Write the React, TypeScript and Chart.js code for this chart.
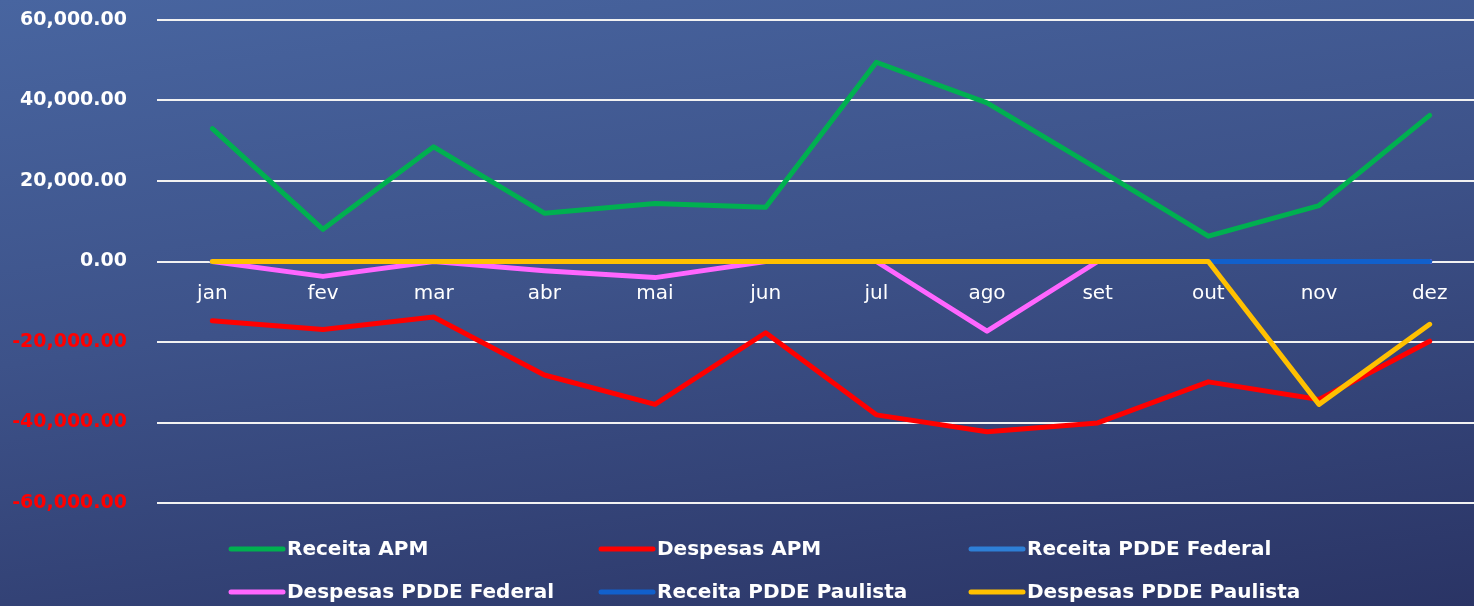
import React, { useEffect, useRef } from "react";
import { Chart, registerables } from "chart.js";

Chart.register(...registerables);

const categories = ["jan", "fev", "mar", "abr", "mai", "jun", "jul", "ago", "set", "out", "nov", "dez"];
const receitaAPM = [33000, 8000, 28500, 12000, 14400, 13500, 49500, 39400, 23000, 6300, 13900, 36300];
const despesasAPM = [-14700, -16900, -13800, -28200, -35500, -17700, -38100, -42300, -40100, -29900, -34300, -19800];
const receitaPDDEFederal = [0, 0, 0, 0, 0, 0, 0, 0, 0, 0, 0, 0];
const despesasPDDEFederal = [0, -3700, 0, -2300, -4000, 0, 0, -17300, 0, 0, 0, 0];
const receitaPDDEPaulista = [0, 0, 0, 0, 0, 0, 0, 0, 0, 0, 0, 0];
const despesasPDDEPaulista = [0, 0, 0, 0, 0, 0, 0, 0, 0, 0, -35500, -15600];

const yTicks = [-60000, -40000, -20000, 0, 20000, 40000, 60000];

const FONT = "'DejaVu Sans', 'Liberation Sans', sans-serif";

const legendPlugin = {
  id: "gridLegend",
  afterDraw(chart: any) {
    const ctx = chart.ctx;
    const ds = chart.data.datasets;
    const left = chart.chartArea.left;
    ctx.save();
    ctx.font = `bold 20px ${FONT}`;
    ctx.textBaseline = "middle";
    ctx.textAlign = "left";
    ds.forEach((d: any, i: number) => {
      const col = i % 3;
      const row = Math.floor(i / 3);
      const x = left + 72 + col * 370;
      const y = 549 + row * 43;
      ctx.strokeStyle = d.borderColor;
      ctx.lineWidth = 5;
      ctx.lineCap = "round";
      ctx.beginPath();
      ctx.moveTo(x + 2, y);
      ctx.lineTo(x + 54, y);
      ctx.stroke();
      ctx.fillStyle = "#ffffff";
      ctx.fillText(d.label, x + 58, y + 1);
    });
    ctx.restore();
  },
};

export default function App() {
  const ref = useRef<HTMLCanvasElement>(null);

  useEffect(() => {
    if (!ref.current) return;
    const mk = (label: string, data: number[], color: string, order: number) => ({
      label,
      data,
      borderColor: color,
      backgroundColor: color,
      borderWidth: 5,
      pointRadius: 0,
      pointHoverRadius: 0,
      tension: 0,
      fill: false,
      borderCapStyle: "round" as const,
      borderJoinStyle: "round" as const,
      order,
    });
    const chart = new Chart(ref.current, {
      type: "line",
      data: {
        labels: categories,
        datasets: [
          mk("Receita APM", receitaAPM, "#00b050", 5),
          mk("Despesas APM", despesasAPM, "#ff0000", 4),
          mk("Receita PDDE Federal", receitaPDDEFederal, "#2e7fd6", 3),
          mk("Despesas PDDE Federal", despesasPDDEFederal, "#ff66ff", 2),
          mk("Receita PDDE Paulista", receitaPDDEPaulista, "#1160cc", 1),
          mk("Despesas PDDE Paulista", despesasPDDEPaulista, "#ffc000", 0),
        ],
      },
      options: {
        responsive: false,
        animation: false,
        devicePixelRatio: 1,
        layout: { padding: { top: 20, left: 12, right: 5, bottom: 103 } },
        plugins: {
          legend: { display: false },
          tooltip: { enabled: false },
        },
        scales: {
          x: {
            type: "category",
            position: { y: 0 } as any,
            offset: true,
            grid: { display: false, drawTicks: false },
            border: { display: false },
            ticks: {
              color: "#ffffff",
              font: { family: FONT, size: 20 },
              padding: 20,
              maxRotation: 0,
              autoSkip: false,
            },
            afterFit: (s: any) => {
              s.height = 0;
            },
          },
          y: {
            min: -60000,
            max: 60000,
            afterBuildTicks: (s: any) => {
              s.ticks = yTicks.map((v) => ({ value: v }));
            },
            grid: {
              color: "#f2f2f2",
              lineWidth: 2,
              drawTicks: true,
              tickLength: 30,
              tickColor: "rgba(0,0,0,0)",
            },
            border: { display: false },
            ticks: {
              padding: 0,
              font: { family: FONT, size: 19, weight: "bold" },
              color: (c: any) => (c.tick && c.tick.value < 0 ? "#ff0000" : "#ffffff"),
              callback: (v: any) =>
                Number(v).toLocaleString("en-US", { minimumFractionDigits: 2, maximumFractionDigits: 2 }),
            },
            afterFit: (s: any) => {
              s.width = 145;
            },
          },
        },
      },
      plugins: [legendPlugin],
    });
    return () => chart.destroy();
  }, []);

  return (
    <div
      style={{
        position: "absolute",
        left: 0,
        top: 0,
        width: 1474,
        height: 606,
        overflow: "hidden",
        background: "linear-gradient(172deg, #4865a0 0%, #3d5289 45%, #2a3465 100%)",
      }}
    >
      <canvas ref={ref} width={1490} height={606} style={{ display: "block" }} />
    </div>
  );
}
